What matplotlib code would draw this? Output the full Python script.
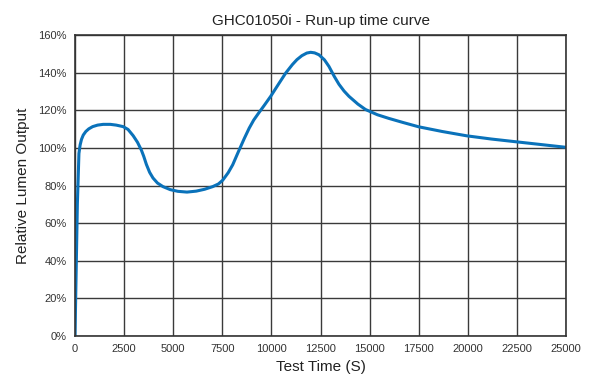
import matplotlib
matplotlib.use("Agg")
import matplotlib.pyplot as plt
from matplotlib.ticker import FuncFormatter

plt.rcParams['font.family'] = ['Liberation Sans', 'DejaVu Sans']

time_s = [0, 60, 120, 200, 260, 330, 420, 550, 700, 900, 1150, 1435, 1800, 2100, 2450,
          2700, 2960, 3180, 3380, 3500, 3635, 3800, 3970, 4200, 4480, 4850, 5240, 5700,
          6170, 6600, 7010, 7300, 7520, 7800, 8030, 8300, 8620, 8870, 9100, 9350, 9630,
          9970, 10400, 10730, 11070, 11300, 11550, 11800, 12000, 12200, 12420, 12700,
          12930, 13200, 13440, 13700, 13950, 14400, 14790, 15400, 15970, 16700, 17500,
          18700, 19950, 21200, 22400, 23700, 25000]
output_pct = [0, 35, 70, 97, 101.5, 104.5, 106.8, 108.7, 110.1, 111.3, 112.1, 112.5, 112.5,
              112.1, 111.3, 109.8, 106.5, 103, 98.8, 95.5, 91.2, 87, 84, 81.3, 79.4, 77.8,
              76.9, 76.5, 77, 78, 79.4, 80.8, 82.8, 86.8, 91, 97.5, 105, 110.5, 114.8, 118.5,
              122.5, 127.5, 134.5, 139.8, 144.3, 146.9, 149, 150.4, 150.8, 150.5, 149.5,
              146.8, 143.3, 138, 133.8, 130.2, 127.4, 123.3, 120.4, 117.6, 115.7, 113.5,
              111.2, 108.7, 106.4, 104.7, 103.3, 101.8, 100.3]

x_ticks = [0, 2500, 5000, 7500, 10000, 12500, 15000, 17500, 20000, 22500, 25000]
y_ticks = [0, 20, 40, 60, 80, 100, 120, 140, 160]

fig = plt.figure(figsize=(5.89, 3.80), dpi=100)
ax = fig.add_axes([75/589, 44/380, 491/589, 301/380])
ax.plot(time_s, output_pct, color='#0A72BA', linewidth=2.2, solid_capstyle='round',
        solid_joinstyle='round')
ax.set_xlim(0, 25000)
ax.set_ylim(0, 160)
ax.set_xticks(x_ticks)
ax.set_yticks(y_ticks)
ax.yaxis.set_major_formatter(FuncFormatter(lambda v, p: f"{int(v)}%"))
ax.grid(True, color='#3a3a3a', linewidth=1.0)
ax.set_axisbelow(True)
for s in ax.spines.values():
    s.set_color('#333333')
    s.set_linewidth(1.2)
ax.tick_params(length=0, labelsize=8, colors='#333333', pad=6)
ax.set_xlabel('Test Time (S)', fontsize=11, color='#222222', labelpad=4)
ax.set_ylabel('Relative Lumen Output', fontsize=11, color='#222222', labelpad=6)
ax.set_title('GHC01050i - Run-up time curve', fontsize=11, color='#222222', pad=7)
fig.savefig('out.png', dpi=100)
